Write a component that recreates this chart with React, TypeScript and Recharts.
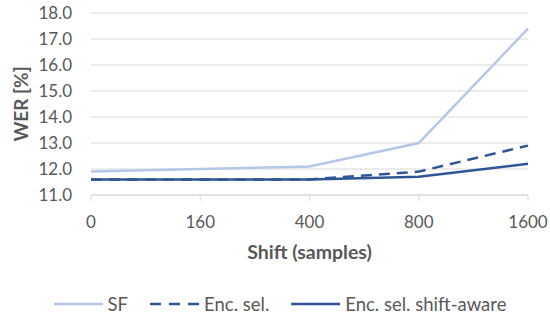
import type { ReactElement } from "react";
import { CartesianGrid, Legend, Line, LineChart, XAxis, YAxis } from "recharts";

const shifts = ["0", "160", "400", "800", "1600"];
const sfWer = [11.9, 12.0, 12.1, 13.0, 17.4];
const encSelWer = [11.6, 11.6, 11.6, 11.9, 12.9];
const shiftAwareWer = [11.6, 11.6, 11.6, 11.7, 12.2];
const yTicks = [11, 12, 13, 14, 15, 16, 17, 18];

const FONT = "Lato, 'Noto Sans', sans-serif";
const TEXT = "#595959";
const LIGHT = "#B4C7E7";
const DARK = "#2F5597";

const data = shifts.map((shift, i) => ({
  shift,
  sf: sfWer[i],
  encSel: encSelWer[i],
  shiftAware: shiftAwareWer[i],
}));

const legendItems = [
  { label: "SF", color: LIGHT, dash: undefined },
  { label: "Enc. sel.", color: DARK, dash: "11 8" },
  { label: "Enc. sel. shift-aware", color: DARK, dash: undefined },
];

function ChartLegend(): ReactElement {
  return (
    <div
      style={{
        display: "flex",
        justifyContent: "center",
        gap: 22,
        paddingLeft: 10,
        fontFamily: FONT,
        fontSize: 18.5,
        lineHeight: "20px",
        color: TEXT,
      }}
    >
      {legendItems.map((item) => (
        <div key={item.label} style={{ display: "flex", alignItems: "center", gap: 5 }}>
          <svg width={49} height={6}>
            <line
              x1={0}
              y1={3}
              x2={49}
              y2={3}
              stroke={item.color}
              strokeWidth={2.5}
              strokeDasharray={item.dash}
            />
          </svg>
          <span>{item.label}</span>
        </div>
      ))}
    </div>
  );
}

export default function App(): ReactElement {
  return (
    <div style={{ position: "absolute", left: 0, top: 0, background: "#fff" }}>
      <LineChart
        width={550}
        height={317}
        data={data}
        margin={{ top: 13, right: 22, left: 0, bottom: 42 }}
      >
        <CartesianGrid vertical={false} stroke="#D9D9D9" strokeWidth={1} />
        <XAxis
          dataKey="shift"
          scale="point"
          padding={{ left: 0, right: 0 }}
          axisLine={{ stroke: "#D9D9D9" }}
          tickLine={{ stroke: "#D9D9D9" }}
          tickSize={6}
          tickMargin={15}
          height={60}
          tick={{ fill: TEXT, fontSize: 17, fontFamily: FONT }}
          label={{
            content: () => (
              <text
                x={309.5}
                y={259}
                textAnchor="middle"
                fill={TEXT}
                fontFamily={FONT}
                fontSize={19.5}
                fontWeight="bold"
              >
                Shift (samples)
              </text>
            ),
          }}
        />
        <YAxis
          domain={[11, 18]}
          ticks={yTicks}
          width={91}
          axisLine={false}
          tickLine={false}
          tickSize={6}
          tickMargin={13}
          tickFormatter={(v: number) => v.toFixed(1)}
          tick={{ fill: TEXT, fontSize: 17, fontFamily: FONT }}
          label={{
            content: () => (
              <text
                x={28}
                y={104}
                transform="rotate(-90, 28, 104)"
                textAnchor="middle"
                fill={TEXT}
                fontFamily={FONT}
                fontSize={19}
                fontWeight="bold"
              >
                WER [%]
              </text>
            ),
          }}
        />
        <Legend
          verticalAlign="bottom"
          wrapperStyle={{ left: 0, width: 550, bottom: 3 }}
          content={() => <ChartLegend />}
        />
        <Line
          dataKey="sf"
          stroke={LIGHT}
          strokeWidth={2.5}
          dot={false}
          isAnimationActive={false}
        />
        <Line
          dataKey="encSel"
          stroke={DARK}
          strokeWidth={2.5}
          strokeDasharray="11 7"
          dot={false}
          isAnimationActive={false}
        />
        <Line
          dataKey="shiftAware"
          stroke={DARK}
          strokeWidth={2.5}
          dot={false}
          isAnimationActive={false}
        />
      </LineChart>
    </div>
  );
}
